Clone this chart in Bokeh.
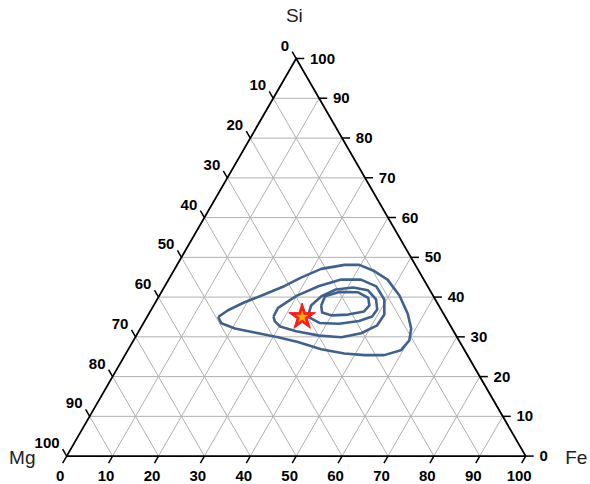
import numpy as np
from bokeh.plotting import figure
from bokeh.models import Range1d
from bokeh.core.properties import value
from bokeh.embed import file_html
from bokeh.resources import INLINE

# ---- data (composition in %, Mg = 100 - Fe - Si) ----
ticks = [0, 10, 20, 30, 40, 50, 60, 70, 80, 90, 100]
tick_labels = ["0", "10", "20", "30", "40", "50", "60", "70", "80", "90", "100"]
grid_vals = [10, 20, 30, 40, 50, 60, 70, 80, 90]

outer_fe = [15.5, 16.8, 19.4, 22.8, 26.1, 28.6, 31.9, 36.5, 39.7, 43.4, 47.7, 52.3, 56.4,
            59.0, 60.1, 59.5, 56.5, 52.2, 47.6, 42.0, 36.0, 31.1, 25.4, 20.6, 17.0]
outer_si = [35.0, 36.7, 38.7, 40.7, 42.8, 44.9, 47.1, 48.1, 48.1, 46.7, 44.4, 40.4, 35.8,
            32.1, 29.1, 26.6, 25.4, 25.4, 25.8, 26.9, 28.7, 29.9, 31.1, 32.1, 33.4]

ring2_fe = [27.5, 27.4, 29.9, 33.6, 37.6, 41.9, 46.1, 49.5, 51.4, 51.2, 48.7, 44.9, 39.9, 34.3, 30.2, 28.4]
ring2_si = [35.1, 37.3, 40.3, 42.8, 44.4, 44.4, 42.7, 39.4, 35.6, 32.9, 30.9, 29.9, 30.3, 31.4, 32.6, 33.9]

ring3_fe = [35.0, 34.3, 35.4, 37.7, 41.2, 44.8, 47.7, 49.2, 49.0, 46.7, 42.7, 38.3]
ring3_si = [35.1, 37.9, 40.2, 41.9, 42.4, 41.7, 39.4, 36.9, 35.1, 34.0, 33.3, 33.5]

ring4_fe = [36.5, 36.2, 38.7, 42.9, 45.8, 47.0, 46.6, 43.5, 40.1, 37.6]
ring4_si = [37.9, 40.2, 41.3, 41.2, 39.8, 37.9, 36.4, 35.6, 35.4, 36.1]

star_fe = [33.8]
star_si = [35.0]

vertex_labels = ["Si", "Mg", "Fe"]

# ---- ternary -> cartesian ----
H = np.sqrt(3) / 2


def tx(fe, si):
    fe = np.asarray(fe, dtype=float)
    si = np.asarray(si, dtype=float)
    return fe + si / 2.0


def ty(fe, si):
    si = np.asarray(si, dtype=float)
    return si * H


p = figure(width=590, height=484, output_backend="svg", toolbar_location=None,
           x_range=Range1d(-14.42, 114.12), y_range=Range1d(-6.19, 99.26),
           min_border=0, x_axis_type=None, y_axis_type=None,
           outline_line_color=None, background_fill_color="white",
           border_fill_color="white")
p.min_border_left = p.min_border_right = p.min_border_top = p.min_border_bottom = 0

FONT = value("Liberation Sans")
TSIZE = value("15px")

# ---- grid ----
gx, gy = [], []
for t in grid_vals:
    gx.append(list(tx([0, 100 - t], [t, t])))
    gy.append(list(ty([0, 100 - t], [t, t])))
    gx.append(list(tx([t, t], [0, 100 - t])))
    gy.append(list(ty([t, t], [0, 100 - t])))
    gx.append(list(tx([100 - t, 0], [0, 100 - t])))
    gy.append(list(ty([100 - t, 0], [0, 100 - t])))
p.multi_line(gx, gy, line_color="#b0b0b0", line_width=1)

# ---- triangle ----
p.line(list(tx([0, 100, 0, 0], [0, 0, 100, 0])), list(ty([0, 100, 0, 0], [0, 0, 100, 0])),
       line_color="black", line_width=1.8, line_join="miter")

tick_len = 1.75
tk = np.asarray(ticks, dtype=float)

# bottom axis (Fe)
bx0 = tx(tk, 0 * tk)
by0 = ty(tk, 0 * tk)
p.segment(bx0, by0, bx0 - 0.5 * tick_len, by0 - H * tick_len, line_color="black", line_width=1.5)
p.text(x=bx0 - 1.42, y=by0 - 4.4, text=tick_labels, text_font=FONT,
       text_font_size=TSIZE, text_font_style="bold", text_align="center",
       text_baseline="middle", text_color="black")

# right axis (Si)
rx0 = tx(100 - tk, tk)
ry0 = ty(100 - tk, tk)
p.segment(rx0, ry0, rx0 + tick_len, ry0, line_color="black", line_width=1.5)
p.text(x=rx0 + 3.0, y=ry0, text=tick_labels, text_font=FONT,
       text_font_size=TSIZE, text_font_style="bold", text_align="left",
       text_baseline="middle", text_color="black")

# left axis (Mg)
lx0 = tx(0 * tk, 100 - tk)
ly0 = ty(0 * tk, 100 - tk)
p.segment(lx0, ly0, lx0 - 0.5 * tick_len, ly0 + H * tick_len, line_color="black", line_width=1.5)
p.text(x=lx0 - 1.55, y=ly0 + 2.8, text=tick_labels, text_font=FONT,
       text_font_size=TSIZE, text_font_style="bold", text_align="right",
       text_baseline="middle", text_color="black")

# vertex labels
p.text(x=[49.6], y=[96.0], text=[vertex_labels[0]], text_font=FONT,
       text_font_size=value("19px"), text_align="center", text_baseline="middle", text_color="#222222")
p.text(x=[-6.8], y=[-0.3], text=[vertex_labels[1]], text_font=FONT,
       text_font_size=value("19px"), text_align="right", text_baseline="middle", text_color="#222222")
p.text(x=[108.6], y=[-0.2], text=[vertex_labels[2]], text_font=FONT,
       text_font_size=value("19px"), text_align="left", text_baseline="middle", text_color="#222222")

# ---- contours ----
cfe = [outer_fe, ring2_fe, ring3_fe, ring4_fe]
csi = [outer_si, ring2_si, ring3_si, ring4_si]
cx = [list(tx(f + f[:1], s + s[:1])) for f, s in zip(cfe, csi)]
cy = [list(ty(f + f[:1], s + s[:1])) for f, s in zip(cfe, csi)]
p.multi_line(cx, cy, line_color="#3f6190", line_width=2.6, line_join="round")

# ---- star ----
sx = tx(star_fe, star_si)
sy = ty(star_fe, star_si)
p.scatter(sx, sy, marker="star", size=28, fill_color="#ff1a1a", line_color="#ff1a1a", line_width=1)
p.scatter(sx, sy, marker="star", size=12, fill_color="#f7b400", line_color="#f7b400", line_width=0.5)

open("out.html", "w").write(file_html(p, INLINE))
